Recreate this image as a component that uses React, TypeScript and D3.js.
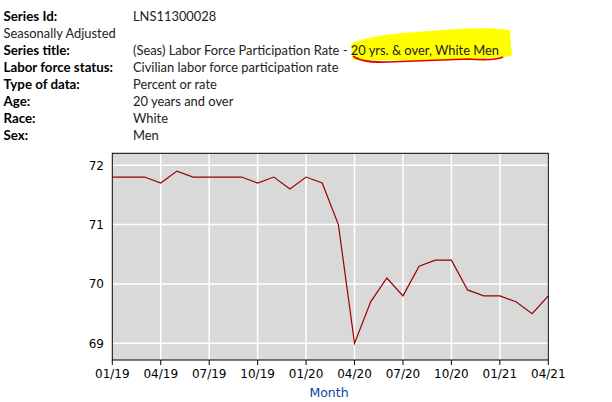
import React from "react";
import * as d3 from "d3";

const infoLabels = ["Series Id:", "", "Series title:", "Labor force status:", "Type of data:", "Age:", "Race:", "Sex:"];
const infoValues = ["LNS11300028", "Seasonally Adjusted", "(Seas) Labor Force Participation Rate - 20 yrs. & over, White Men", "Civilian labor force participation rate", "Percent or rate", "20 years and over", "White", "Men"];

const months = [
  "2019-01","2019-02","2019-03","2019-04","2019-05","2019-06","2019-07","2019-08","2019-09","2019-10","2019-11","2019-12",
  "2020-01","2020-02","2020-03","2020-04","2020-05","2020-06","2020-07","2020-08","2020-09","2020-10","2020-11","2020-12",
  "2021-01","2021-02","2021-03","2021-04",
];
const values = [
  71.8, 71.8, 71.8, 71.7, 71.9, 71.8, 71.8, 71.8, 71.8, 71.7, 71.8, 71.6,
  71.8, 71.7, 71.0, 69.0, 69.7, 70.1, 69.8, 70.3, 70.4, 70.4, 69.9, 69.8,
  69.8, 69.7, 69.5, 69.8,
];
const xTickLabels = ["01/19","04/19","07/19","10/19","01/20","04/20","07/20","10/20","01/21","04/21"];
const yTicks = [69, 70, 71, 72];

export default function App() {
  const left = 112.3, right = 548.3, top = 153.3, bottom = 360;
  const x = d3.scaleLinear().domain([0, months.length - 1]).range([left, right]);
  const y = d3.scaleLinear().domain([68.72, 72.2]).range([bottom, top]);
  const line = d3.line<number>().x((_, i) => x(i)).y((v) => y(v));
  const xTickIdx = xTickLabels.map((_, i) => i * 3);

  const textFont = "Lato, 'Noto Sans', sans-serif";
  const axisFont = "'DejaVu Sans', Verdana, sans-serif";

  return (
    <svg width={612} height={402} style={{ position: "absolute", left: 0, top: 0, background: "#fff" }}>
      {/* highlight */}
      <path d="M351,44 C366,36 398,33 430,31 C460,28 490,27 510,30 L512,56 C490,60 420,61 353,60 Z" fill="#ffff00" />
      <path d="M353,56 Q362,63 388,62 L468,59 Q494,61 503,57" fill="none" stroke="#e00000" strokeWidth={1.6} />
      {infoLabels.map((l, i) => (
        <text key={"l" + i} x={3.5} y={20.5 + i * 17} fontFamily={textFont} fontSize={13.3} fontWeight="bold" fill="#000">{l}</text>
      ))}
      {infoValues.map((v, i) => (
        <text key={"v" + i} x={i === 1 ? 3.5 : 133} y={20.5 + i * 17} fontFamily={textFont} fontSize={12.9} fill="#222">{v}</text>
      ))}

      <rect x={left} y={top} width={right - left} height={bottom - top} fill="#d9d9d9" />
      {xTickIdx.map((t) => (
        <line key={"gx" + t} x1={x(t)} x2={x(t)} y1={top} y2={bottom} stroke="#fff" strokeWidth={1.5} />
      ))}
      {yTicks.map((t) => (
        <line key={"gy" + t} x1={left} x2={right} y1={y(t)} y2={y(t)} stroke="#fff" strokeWidth={1.5} />
      ))}
      <path d={line(values) || ""} fill="none" stroke="#990000" strokeWidth={1.2} />
      <rect x={left} y={top} width={right - left} height={bottom - top} fill="none" stroke="#000" strokeWidth={1} />
      {xTickIdx.map((t, i) => (
        <g key={"tx" + t}>
          <line x1={x(t)} x2={x(t)} y1={bottom} y2={bottom + 5} stroke="#000" />
          <text x={x(t)} y={378} textAnchor="middle" fontFamily={axisFont} fontSize={12} fill="#000">{xTickLabels[i]}</text>
        </g>
      ))}
      {yTicks.map((t) => (
        <g key={"ty" + t}>
          <text x={104} y={y(t) + 4.5} textAnchor="end" fontFamily={axisFont} fontSize={12} fill="#000">{t}</text>
        </g>
      ))}
      <text x={329} y={397} textAnchor="middle" fontFamily={axisFont} fontSize={12.5} fill="#1040a0">Month</text>
    </svg>
  );
}
